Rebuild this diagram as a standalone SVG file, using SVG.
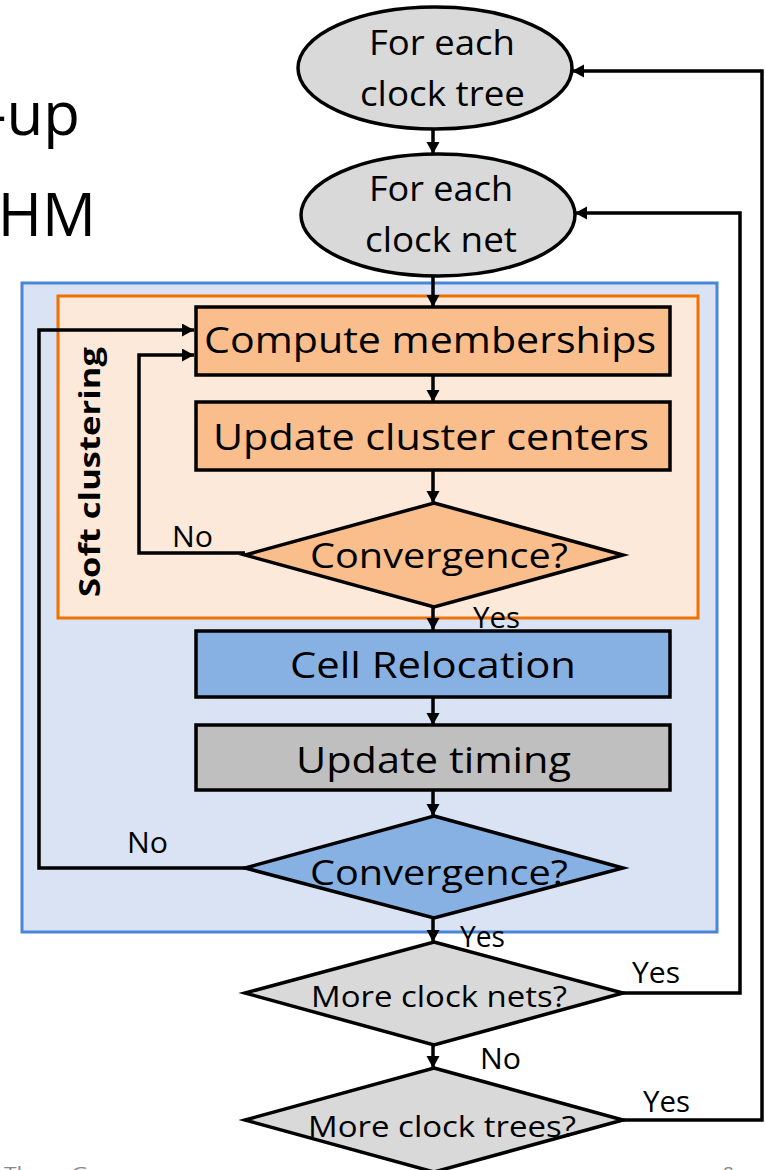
<svg xmlns="http://www.w3.org/2000/svg" width="765" height="1170" viewBox="0 0 765 1170">
<style>
.t{font-family:"Open Sans","Noto Sans","Liberation Sans",sans-serif;fill:#000}
.shape{stroke:#000;stroke-width:3.5;stroke-linejoin:miter}
.gray{fill:#d9d9d9}
.org{fill:#f9be8c}
.blue{fill:#88b1e3}
.dgray{fill:#bfbfbf}
.conn{fill:none;stroke:#000;stroke-width:3.5}
.lbl{font-size:29px}
.big{font-size:37px}
.mid{font-size:34px}
</style>
<defs>
<marker id="ah" markerUnits="userSpaceOnUse" markerWidth="14" markerHeight="14" refX="12" refY="6.5" orient="auto">
<path d="M0,0 L12,6.5 L0,13 z" fill="#000"/>
</marker>
</defs>
<rect width="765" height="1170" fill="#fff"/>
<g id="title">
<text class="t" x="80" y="135" font-size="60" text-anchor="end">-up</text>
<text class="t" x="96" y="236" font-size="60" text-anchor="end">HM</text>
</g>
<g id="footer">
<text x="4" y="1180" font-family="Open Sans,sans-serif" font-size="19" fill="#8a8a8a" textLength="143" lengthAdjust="spacingAndGlyphs">Three  Greece</text>
<text x="723" y="1180" font-family="Open Sans,sans-serif" font-size="19" fill="#8a8a8a">8</text>
</g>
<g id="outer-box"><rect x="22" y="283" width="695" height="649" fill="#dae3f3" stroke="#4a86d8" stroke-width="3"/></g>
<g id="soft-box">
<rect x="58" y="296" width="640" height="322" fill="#fde9d9" stroke="#f07000" stroke-width="3"/>
<text class="t" transform="translate(100,472) rotate(-90)" font-size="28" font-weight="bold" text-anchor="middle" textLength="250" lengthAdjust="spacingAndGlyphs">Soft clustering</text>
</g>
<g id="connectors">
<line class="conn" x1="433" y1="129" x2="433" y2="154" marker-end="url(#ah)"/>
<line class="conn" x1="433" y1="276" x2="433" y2="307" marker-end="url(#ah)"/>
<line class="conn" x1="433" y1="375" x2="433" y2="402" marker-end="url(#ah)"/>
<line class="conn" x1="433" y1="470" x2="433" y2="503" marker-end="url(#ah)"/>
<line class="conn" x1="433" y1="607" x2="433" y2="630" marker-end="url(#ah)"/>
<line class="conn" x1="433" y1="697" x2="433" y2="725" marker-end="url(#ah)"/>
<line class="conn" x1="433" y1="790" x2="433" y2="816" marker-end="url(#ah)"/>
<line class="conn" x1="433" y1="918" x2="433" y2="942" marker-end="url(#ah)"/>
<line class="conn" x1="433" y1="1045" x2="433" y2="1068" marker-end="url(#ah)"/>
<polyline class="conn" points="245,553 139,553 139,355 194,355" marker-end="url(#ah)"/>
<polyline class="conn" points="245,868 39,868 39,330 194,330" marker-end="url(#ah)"/>
<polyline class="conn" points="623,993 740,993 740,213 575,213" marker-end="url(#ah)"/>
<polyline class="conn" points="623,1120 762,1120 762,71 572,71" marker-end="url(#ah)"/>
<text class="t lbl" x="172" y="547" textLength="41" lengthAdjust="spacingAndGlyphs">No</text>
<text class="t lbl" x="473" y="628" textLength="47" lengthAdjust="spacingAndGlyphs">Yes</text>
<text class="t lbl" x="127" y="853" textLength="41" lengthAdjust="spacingAndGlyphs">No</text>
<text class="t lbl" x="460" y="947" textLength="45" lengthAdjust="spacingAndGlyphs">Yes</text>
<text class="t lbl" x="632" y="983" textLength="48" lengthAdjust="spacingAndGlyphs">Yes</text>
<text class="t lbl" x="480" y="1069" textLength="41" lengthAdjust="spacingAndGlyphs">No</text>
<text class="t lbl" x="643" y="1112" textLength="47" lengthAdjust="spacingAndGlyphs">Yes</text>
</g>
<g id="n-tree">
<ellipse class="shape gray" cx="435" cy="68" rx="137" ry="61"/>
<text class="t mid" x="369" y="55" textLength="146" lengthAdjust="spacingAndGlyphs">For each</text>
<text class="t mid" x="360" y="106" textLength="165" lengthAdjust="spacingAndGlyphs">clock tree</text>
</g>
<g id="n-net">
<ellipse class="shape gray" cx="438" cy="215" rx="137" ry="61"/>
<text class="t mid" x="369" y="201" textLength="144" lengthAdjust="spacingAndGlyphs">For each</text>
<text class="t mid" x="365" y="252" textLength="152" lengthAdjust="spacingAndGlyphs">clock net</text>
</g>
<g id="n-compute">
<rect class="shape org" x="196" y="307" width="474" height="68"/>
<text class="t big" x="204" y="353" textLength="452" lengthAdjust="spacingAndGlyphs">Compute memberships</text>
</g>
<g id="n-update">
<rect class="shape org" x="196" y="402" width="474" height="68"/>
<text class="t big" x="213" y="450" textLength="436" lengthAdjust="spacingAndGlyphs">Update cluster centers</text>
</g>
<g id="n-conv1">
<polygon class="shape org" points="434,503 623,555 434,607 245,555"/>
<text class="t mid" x="310" y="568" textLength="258" lengthAdjust="spacingAndGlyphs">Convergence?</text>
</g>
<g id="n-reloc">
<rect class="shape blue" x="196" y="631" width="474" height="66"/>
<text class="t big" x="290" y="678" textLength="286" lengthAdjust="spacingAndGlyphs">Cell Relocation</text>
</g>
<g id="n-timing">
<rect class="shape dgray" x="196" y="725" width="474" height="65"/>
<text class="t big" x="296" y="773" textLength="275" lengthAdjust="spacingAndGlyphs">Update timing</text>
</g>
<g id="n-conv2">
<polygon class="shape blue" points="434,816 623,868 434,918 245,868"/>
<text class="t mid" x="310" y="885" textLength="258" lengthAdjust="spacingAndGlyphs">Convergence?</text>
</g>
<g id="n-nets">
<polygon class="shape gray" points="434,942 623,993 434,1045 245,993"/>
<text class="t lbl" x="311" y="1007" textLength="256" lengthAdjust="spacingAndGlyphs">More clock nets?</text>
</g>
<g id="n-trees">
<polygon class="shape gray" points="434,1068 623,1120 434,1172 245,1120"/>
<text class="t lbl" x="308" y="1137" textLength="268" lengthAdjust="spacingAndGlyphs">More clock trees?</text>
</g>
</svg>
